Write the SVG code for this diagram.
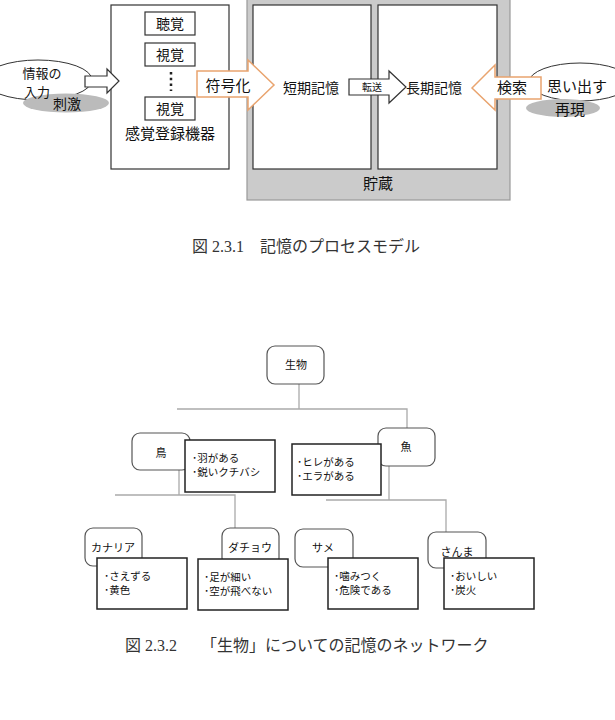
<svg xmlns="http://www.w3.org/2000/svg" width="615" height="720" viewBox="0 0 615 720">
<style>
text{font-family:"Noto Sans CJK JP","Liberation Sans",sans-serif;fill:#111}
.box{fill:#fff;stroke:#333;stroke-width:1.2}
.node{fill:#fff;stroke:#555;stroke-width:1.2}
.attr{fill:#fff;stroke:#222;stroke-width:1.5}
.conn{fill:none;stroke:#aaa;stroke-width:1.3}
.orange{fill:#fff;stroke:#e9a46f;stroke-width:1.5;stroke-linejoin:miter}
.hollow{fill:#fff;stroke:#333;stroke-width:1.2}
.cap{font-family:"Liberation Serif","Noto Sans CJK JP",serif;fill:#333;font-size:16px}
.t13{font-size:13px}
.t14{font-size:14px}
.t15{font-size:15px}
.t11{font-size:11px}
.t10{font-size:10.5px}
.c{text-anchor:middle}
</style>
<rect width="615" height="720" fill="#fff"/>

<!-- Figure 2.3.1 -->
<g id="storage">
<rect x="247" y="-2" width="263" height="202" fill="#cbcbcb" stroke="#999" stroke-width="1.2"/>
<text x="378" y="189" class="t15 c">貯蔵</text>
</g>
<g id="stm">
<rect x="253" y="5" width="118" height="164" class="box"/>
<text x="311" y="93" class="t14 c">短期記憶</text>
</g>
<g id="ltm">
<rect x="378" y="5" width="119" height="164" class="box"/>
<text x="434" y="93" class="t14 c">長期記憶</text>
</g>
<g id="sensory">
<rect x="111" y="5" width="118" height="164" class="box"/>
<rect x="145" y="12" width="50" height="23" class="box"/>
<text x="170" y="29" class="t14 c">聴覚</text>
<rect x="145" y="43" width="50" height="23" class="box"/>
<text x="170" y="60" class="t14 c">視覚</text>
<line x1="171" y1="72" x2="171" y2="91" stroke="#222" stroke-width="2.5" stroke-dasharray="2.5 3.3"/>
<rect x="145" y="97" width="50" height="23" class="box"/>
<text x="170" y="114" class="t14 c">視覚</text>
<text x="170" y="139" class="t15 c">感覚登録機器</text>
</g>
<g id="input">
<ellipse cx="38" cy="80" rx="54" ry="20" fill="#fff" stroke="#333" stroke-width="1"/>
<ellipse cx="66" cy="103" rx="43" ry="9.5" fill="#bbb"/>
<text x="42" y="78" class="t13 c">情報の</text>
<text x="37" y="97" class="t13 c">入力</text>
<text x="67" y="109" class="t14 c">刺激</text>
</g>
<g id="recall">
<ellipse cx="580" cy="82" rx="51" ry="19" fill="#fff" stroke="#333" stroke-width="1"/>
<ellipse cx="563" cy="108" rx="37" ry="9" fill="#bbb"/>
<text x="577" y="92" class="t15 c">思い出す</text>
<text x="570" y="115" class="t15 c">再現</text>
</g>
<g id="connectors-top">
<polygon points="85,76 107,76 107,69 119,81 107,93 107,87 85,87" class="hollow"/>
<polygon points="197,71 248,71 248,60 274,85 248,110 248,97 197,97" class="orange"/>
<text x="228" y="91" class="t15 c">符号化</text>
<polygon points="349,79 389,79 389,71 406,87 389,103 389,95 349,95" class="hollow"/>
<text x="372" y="91" font-size="10" class="c">転送</text>
<polygon points="472,88 495,65 495,77 541,77 541,99 495,99 495,110" class="orange"/>
<text x="512" y="93" class="t15 c">検索</text>
</g>
<text x="192" y="252" class="cap">図 2.3.1　記憶のプロセスモデル</text>

<!-- Figure 2.3.2 -->
<g id="connectors">
<path d="M299,384 V409 M177,409 H407 V428" class="conn"/>
<path d="M179,470 V495 M115,495 H235 V528" class="conn"/>
<path d="M389,466 V500 M326,500 H446 V532" class="conn"/>
</g>
<g id="n-seibutsu">
<rect x="267" y="346" width="57" height="38" rx="8" class="node"/>
<text x="296" y="369" class="t11 c">生物</text>
</g>
<g id="n-tori">
<rect x="132" y="433" width="58" height="37" rx="8" class="node"/>
<text x="161" y="457" class="t11 c">鳥</text>
<rect x="185" y="440" width="90" height="52" class="attr" stroke-width="2"/>
<text x="192" y="462" class="t10">･羽がある</text>
<text x="192" y="476" class="t10">･鋭いクチバシ</text>
</g>
<g id="n-sakana">
<rect x="378" y="428" width="57" height="38" rx="8" class="node"/>
<text x="406" y="451" class="t11 c">魚</text>
<rect x="292" y="444" width="89" height="51" class="attr"/>
<text x="297" y="466" class="t10">･ヒレがある</text>
<text x="297" y="480" class="t10">･エラがある</text>
</g>
<g id="n-kanaria">
<rect x="85" y="528" width="57" height="38" rx="8" class="node"/>
<text x="113" y="552" class="t11 c">カナリア</text>
<rect x="97" y="558" width="90" height="51" class="attr"/>
<text x="104" y="580" class="t10">･さえずる</text>
<text x="104" y="594" class="t10">･黄色</text>
</g>
<g id="n-dachou">
<rect x="222" y="528" width="57" height="38" rx="8" class="node"/>
<text x="250" y="552" class="t11 c">ダチョウ</text>
<rect x="198" y="559" width="90" height="51" class="attr" stroke-width="2"/>
<text x="204" y="581" class="t10">･足が細い</text>
<text x="204" y="595" class="t10">･空が飛べない</text>
</g>
<g id="n-same">
<rect x="295" y="529" width="58" height="38" rx="8" class="node"/>
<text x="323" y="552" class="t11 c">サメ</text>
<rect x="328" y="558" width="90" height="51" class="attr"/>
<text x="334" y="580" class="t10">･噛みつく</text>
<text x="334" y="594" class="t10">･危険である</text>
</g>
<g id="n-sanma">
<rect x="428" y="532" width="58" height="36" rx="8" class="node"/>
<text x="457" y="556" class="t11 c">さんま</text>
<rect x="444" y="558" width="90" height="51" class="attr"/>
<text x="450" y="580" class="t10">･おいしい</text>
<text x="450" y="594" class="t10">･炭火</text>
</g>
<text x="125" y="651" class="cap">図 2.3.2　　「生物」についての記憶のネットワーク</text>
</svg>
